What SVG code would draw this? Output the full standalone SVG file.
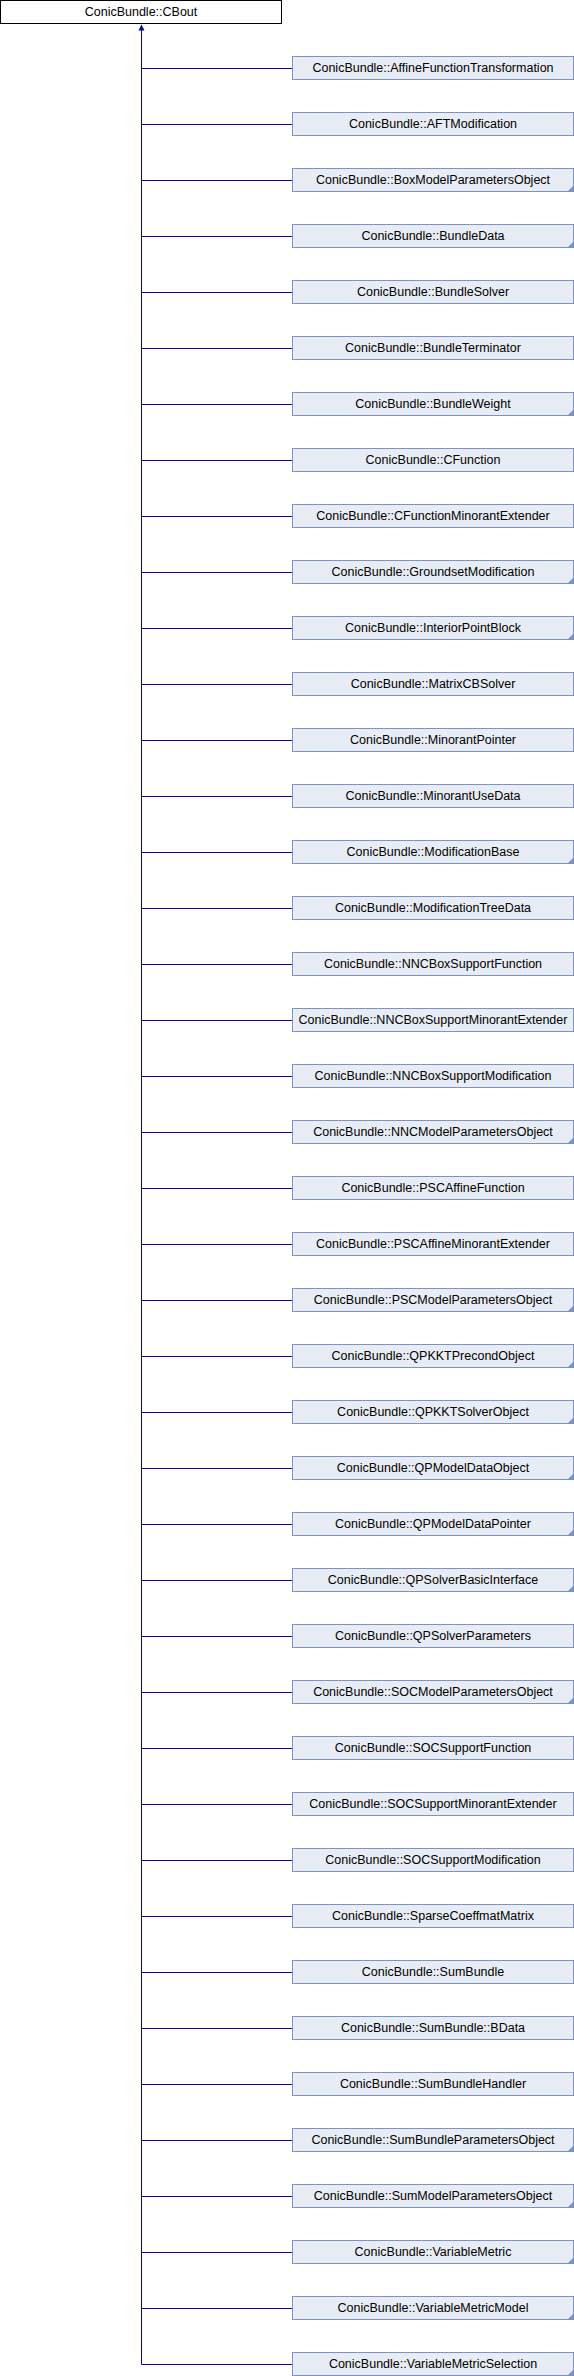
<svg xmlns="http://www.w3.org/2000/svg" width="574" height="2376" viewBox="0 0 574 2376">
<style>
.root{fill:#ffffff;stroke:#000000;stroke-width:1}
.box{fill:#e8ecf5;stroke:#7d93c8;stroke-width:1}
.tri{fill:#7d93c8}
.lbl{font-family:"Liberation Sans",Arial,sans-serif;font-size:12.5px;fill:#000000;text-anchor:middle}
.edge{stroke:#0a0a8a;stroke-width:1;fill:none}
.head{fill:#0a0a8a}
</style>
<defs>
<polygon id="corner" class="tri" points="568,23 573.5,23 573.5,17.5"/>
</defs>
<g id="connectors">
<path class="edge" d="M141.5,30V2364.5"/>
<polygon class="head" points="141.5,24.5 138.5,30.5 144.5,30.5"/>
<path class="edge" d="M141.5,68.5H292.5M141.5,124.5H292.5M141.5,180.5H292.5M141.5,236.5H292.5M141.5,292.5H292.5M141.5,348.5H292.5M141.5,404.5H292.5M141.5,460.5H292.5M141.5,516.5H292.5M141.5,572.5H292.5M141.5,628.5H292.5M141.5,684.5H292.5M141.5,740.5H292.5M141.5,796.5H292.5M141.5,852.5H292.5M141.5,908.5H292.5M141.5,964.5H292.5M141.5,1020.5H292.5M141.5,1076.5H292.5M141.5,1132.5H292.5M141.5,1188.5H292.5M141.5,1244.5H292.5M141.5,1300.5H292.5M141.5,1356.5H292.5M141.5,1412.5H292.5M141.5,1468.5H292.5M141.5,1524.5H292.5M141.5,1580.5H292.5M141.5,1636.5H292.5M141.5,1692.5H292.5M141.5,1748.5H292.5M141.5,1804.5H292.5M141.5,1860.5H292.5M141.5,1916.5H292.5M141.5,1972.5H292.5M141.5,2028.5H292.5M141.5,2084.5H292.5M141.5,2140.5H292.5M141.5,2196.5H292.5M141.5,2252.5H292.5M141.5,2308.5H292.5M141.5,2364.5H292.5"/>
</g>
<g id="CBout"><rect class="root" x="0.5" y="0.5" width="281" height="23"/><text class="lbl" x="141" y="16">ConicBundle::CBout</text></g>
<g id="n0" transform="translate(0,56)"><rect class="box" x="292.5" y="0.5" width="281" height="23"/><text class="lbl" x="433" y="16">ConicBundle::AffineFunctionTransformation</text></g>
<g id="n1" transform="translate(0,112)"><rect class="box" x="292.5" y="0.5" width="281" height="23"/><text class="lbl" x="433" y="16">ConicBundle::AFTModification</text></g>
<g id="n2" transform="translate(0,168)"><rect class="box" x="292.5" y="0.5" width="281" height="23"/><use href="#corner"/><text class="lbl" x="433" y="16">ConicBundle::BoxModelParametersObject</text></g>
<g id="n3" transform="translate(0,224)"><rect class="box" x="292.5" y="0.5" width="281" height="23"/><use href="#corner"/><text class="lbl" x="433" y="16">ConicBundle::BundleData</text></g>
<g id="n4" transform="translate(0,280)"><rect class="box" x="292.5" y="0.5" width="281" height="23"/><text class="lbl" x="433" y="16">ConicBundle::BundleSolver</text></g>
<g id="n5" transform="translate(0,336)"><rect class="box" x="292.5" y="0.5" width="281" height="23"/><text class="lbl" x="433" y="16">ConicBundle::BundleTerminator</text></g>
<g id="n6" transform="translate(0,392)"><rect class="box" x="292.5" y="0.5" width="281" height="23"/><use href="#corner"/><text class="lbl" x="433" y="16">ConicBundle::BundleWeight</text></g>
<g id="n7" transform="translate(0,448)"><rect class="box" x="292.5" y="0.5" width="281" height="23"/><text class="lbl" x="433" y="16">ConicBundle::CFunction</text></g>
<g id="n8" transform="translate(0,504)"><rect class="box" x="292.5" y="0.5" width="281" height="23"/><text class="lbl" x="433" y="16">ConicBundle::CFunctionMinorantExtender</text></g>
<g id="n9" transform="translate(0,560)"><rect class="box" x="292.5" y="0.5" width="281" height="23"/><use href="#corner"/><text class="lbl" x="433" y="16">ConicBundle::GroundsetModification</text></g>
<g id="n10" transform="translate(0,616)"><rect class="box" x="292.5" y="0.5" width="281" height="23"/><use href="#corner"/><text class="lbl" x="433" y="16">ConicBundle::InteriorPointBlock</text></g>
<g id="n11" transform="translate(0,672)"><rect class="box" x="292.5" y="0.5" width="281" height="23"/><text class="lbl" x="433" y="16">ConicBundle::MatrixCBSolver</text></g>
<g id="n12" transform="translate(0,728)"><rect class="box" x="292.5" y="0.5" width="281" height="23"/><text class="lbl" x="433" y="16">ConicBundle::MinorantPointer</text></g>
<g id="n13" transform="translate(0,784)"><rect class="box" x="292.5" y="0.5" width="281" height="23"/><text class="lbl" x="433" y="16">ConicBundle::MinorantUseData</text></g>
<g id="n14" transform="translate(0,840)"><rect class="box" x="292.5" y="0.5" width="281" height="23"/><use href="#corner"/><text class="lbl" x="433" y="16">ConicBundle::ModificationBase</text></g>
<g id="n15" transform="translate(0,896)"><rect class="box" x="292.5" y="0.5" width="281" height="23"/><text class="lbl" x="433" y="16">ConicBundle::ModificationTreeData</text></g>
<g id="n16" transform="translate(0,952)"><rect class="box" x="292.5" y="0.5" width="281" height="23"/><text class="lbl" x="433" y="16">ConicBundle::NNCBoxSupportFunction</text></g>
<g id="n17" transform="translate(0,1008)"><rect class="box" x="292.5" y="0.5" width="281" height="23"/><text class="lbl" x="433" y="16">ConicBundle::NNCBoxSupportMinorantExtender</text></g>
<g id="n18" transform="translate(0,1064)"><rect class="box" x="292.5" y="0.5" width="281" height="23"/><text class="lbl" x="433" y="16">ConicBundle::NNCBoxSupportModification</text></g>
<g id="n19" transform="translate(0,1120)"><rect class="box" x="292.5" y="0.5" width="281" height="23"/><use href="#corner"/><text class="lbl" x="433" y="16">ConicBundle::NNCModelParametersObject</text></g>
<g id="n20" transform="translate(0,1176)"><rect class="box" x="292.5" y="0.5" width="281" height="23"/><text class="lbl" x="433" y="16">ConicBundle::PSCAffineFunction</text></g>
<g id="n21" transform="translate(0,1232)"><rect class="box" x="292.5" y="0.5" width="281" height="23"/><text class="lbl" x="433" y="16">ConicBundle::PSCAffineMinorantExtender</text></g>
<g id="n22" transform="translate(0,1288)"><rect class="box" x="292.5" y="0.5" width="281" height="23"/><use href="#corner"/><text class="lbl" x="433" y="16">ConicBundle::PSCModelParametersObject</text></g>
<g id="n23" transform="translate(0,1344)"><rect class="box" x="292.5" y="0.5" width="281" height="23"/><use href="#corner"/><text class="lbl" x="433" y="16">ConicBundle::QPKKTPrecondObject</text></g>
<g id="n24" transform="translate(0,1400)"><rect class="box" x="292.5" y="0.5" width="281" height="23"/><use href="#corner"/><text class="lbl" x="433" y="16">ConicBundle::QPKKTSolverObject</text></g>
<g id="n25" transform="translate(0,1456)"><rect class="box" x="292.5" y="0.5" width="281" height="23"/><use href="#corner"/><text class="lbl" x="433" y="16">ConicBundle::QPModelDataObject</text></g>
<g id="n26" transform="translate(0,1512)"><rect class="box" x="292.5" y="0.5" width="281" height="23"/><use href="#corner"/><text class="lbl" x="433" y="16">ConicBundle::QPModelDataPointer</text></g>
<g id="n27" transform="translate(0,1568)"><rect class="box" x="292.5" y="0.5" width="281" height="23"/><use href="#corner"/><text class="lbl" x="433" y="16">ConicBundle::QPSolverBasicInterface</text></g>
<g id="n28" transform="translate(0,1624)"><rect class="box" x="292.5" y="0.5" width="281" height="23"/><text class="lbl" x="433" y="16">ConicBundle::QPSolverParameters</text></g>
<g id="n29" transform="translate(0,1680)"><rect class="box" x="292.5" y="0.5" width="281" height="23"/><use href="#corner"/><text class="lbl" x="433" y="16">ConicBundle::SOCModelParametersObject</text></g>
<g id="n30" transform="translate(0,1736)"><rect class="box" x="292.5" y="0.5" width="281" height="23"/><text class="lbl" x="433" y="16">ConicBundle::SOCSupportFunction</text></g>
<g id="n31" transform="translate(0,1792)"><rect class="box" x="292.5" y="0.5" width="281" height="23"/><text class="lbl" x="433" y="16">ConicBundle::SOCSupportMinorantExtender</text></g>
<g id="n32" transform="translate(0,1848)"><rect class="box" x="292.5" y="0.5" width="281" height="23"/><text class="lbl" x="433" y="16">ConicBundle::SOCSupportModification</text></g>
<g id="n33" transform="translate(0,1904)"><rect class="box" x="292.5" y="0.5" width="281" height="23"/><text class="lbl" x="433" y="16">ConicBundle::SparseCoeffmatMatrix</text></g>
<g id="n34" transform="translate(0,1960)"><rect class="box" x="292.5" y="0.5" width="281" height="23"/><text class="lbl" x="433" y="16">ConicBundle::SumBundle</text></g>
<g id="n35" transform="translate(0,2016)"><rect class="box" x="292.5" y="0.5" width="281" height="23"/><text class="lbl" x="433" y="16">ConicBundle::SumBundle::BData</text></g>
<g id="n36" transform="translate(0,2072)"><rect class="box" x="292.5" y="0.5" width="281" height="23"/><text class="lbl" x="433" y="16">ConicBundle::SumBundleHandler</text></g>
<g id="n37" transform="translate(0,2128)"><rect class="box" x="292.5" y="0.5" width="281" height="23"/><use href="#corner"/><text class="lbl" x="433" y="16">ConicBundle::SumBundleParametersObject</text></g>
<g id="n38" transform="translate(0,2184)"><rect class="box" x="292.5" y="0.5" width="281" height="23"/><use href="#corner"/><text class="lbl" x="433" y="16">ConicBundle::SumModelParametersObject</text></g>
<g id="n39" transform="translate(0,2240)"><rect class="box" x="292.5" y="0.5" width="281" height="23"/><use href="#corner"/><text class="lbl" x="433" y="16">ConicBundle::VariableMetric</text></g>
<g id="n40" transform="translate(0,2296)"><rect class="box" x="292.5" y="0.5" width="281" height="23"/><use href="#corner"/><text class="lbl" x="433" y="16">ConicBundle::VariableMetricModel</text></g>
<g id="n41" transform="translate(0,2352)"><rect class="box" x="292.5" y="0.5" width="281" height="23"/><use href="#corner"/><text class="lbl" x="433" y="16">ConicBundle::VariableMetricSelection</text></g>
</svg>
